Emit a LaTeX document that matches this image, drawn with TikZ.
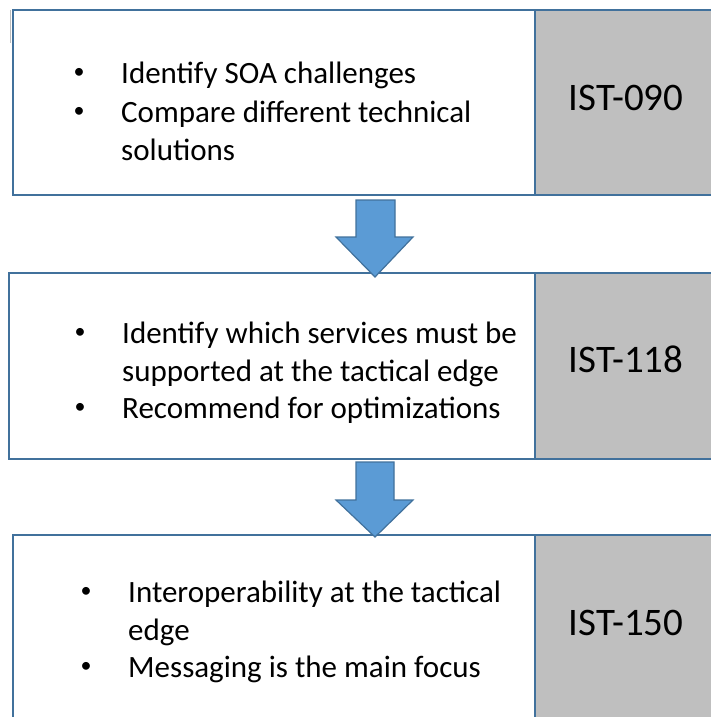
\documentclass[tikz,border=0pt]{standalone}
\usepackage{fontspec}
\setmainfont{Carlito}
\definecolor{edgeblue}{HTML}{41719C}
\definecolor{arrowfill}{HTML}{5B9BD5}
\definecolor{tagfill}{HTML}{BFBFBF}
\begin{document}
\begin{tikzpicture}[x=1pt,y=-1pt,
  panel/.style={draw=edgeblue, line width=2.5pt, fill=white, inner sep=0pt},
  tagcell/.style={draw=edgeblue, line width=2.5pt, fill=tagfill, inner sep=0pt},
  itemtext/.style={anchor=base west, inner sep=0pt, font=\fontsize{31}{38.5}\selectfont},
  bulletmark/.style={anchor=center, inner sep=0pt, font=\fontsize{22}{26}\selectfont},
  tag/.style={anchor=base, inner sep=0pt, font=\fontsize{39}{47}\selectfont},
  blockarrow/.style={draw=edgeblue, line width=1.2pt, fill=arrowfill, line join=miter}]
\useasboundingbox (0,0) rectangle (711,717);
\clip (0,0) rectangle (711,717);

% faint guide mark at the upper left
\draw[black!25, line width=1pt] (10.5,10) -- (10.5,43);

% first stage
\node[panel, minimum width=707pt, minimum height=185pt] (p1) at (366.5,102.5) {};
\node[tagcell, minimum width=185pt, minimum height=185pt] (t1) at (627.5,102.5) {};
\node[tag] (l1) at (626,110) {IST-090};
\node[bulletmark] (b1a) at (79,73) {•};
\node[itemtext] (s1a) at (121,83) {Identify SOA challenges};
\node[bulletmark] (b1b) at (79,112) {•};
\node[itemtext] (s1b) at (121,122) {Compare different technical};
\node[itemtext] (s1c) at (121,160) {solutions};

% second stage
\node[panel, minimum width=711pt, minimum height=186pt] (p2) at (364.5,366) {};
\node[tagcell, minimum width=185pt, minimum height=186pt] (t2) at (627.5,366) {};
\node[tag] (l2) at (626,372) {IST-118};
\node[bulletmark] (b2a) at (80,333) {•};
\node[itemtext] (s2a) at (122,343) {Identify which services must be};
\node[itemtext] (s2b) at (122,381) {supported at the tactical edge};
\node[bulletmark] (b2b) at (80,408) {•};
\node[itemtext] (s2c) at (122,418) {Recommend for optimizations};

% third stage
\node[panel, minimum width=707pt, minimum height=195pt] (p3) at (366.5,632.5) {};
\node[tagcell, minimum width=185pt, minimum height=195pt] (t3) at (627.5,632.5) {};
\node[tag] (l3) at (626,635) {IST-150};
\node[bulletmark] (b3a) at (86,592) {•};
\node[itemtext] (s3a) at (128,602) {Interoperability at the tactical};
\node[itemtext] (s3b) at (128,640) {edge};
\node[bulletmark] (b3b) at (86,667) {•};
\node[itemtext] (s3c) at (128,677) {Messaging is the main focus};

% block arrows between the stages
\draw[blockarrow] (356,200) -- (395,200) -- (395,237) -- (413,237) -- (375,277)
  -- (336,237) -- (356,237) -- cycle;
\draw[blockarrow] (356,462) -- (394,462) -- (394,500) -- (413,500) -- (375,537)
  -- (336,500) -- (356,500) -- cycle;
\end{tikzpicture}
\end{document}
